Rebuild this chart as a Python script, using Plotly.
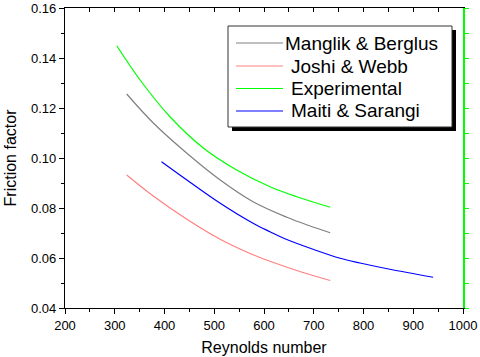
import plotly.graph_objects as go

# values
re_mb = [324, 378, 445, 512, 578, 646, 690, 733]
f_mb = [0.1256, 0.1139, 0.1019, 0.0912, 0.0825, 0.0763, 0.0730, 0.0701]

re_jw = [324, 378, 445, 510, 572, 612, 672, 733]
f_jw = [0.0932, 0.0847, 0.0755, 0.0677, 0.0618, 0.0587, 0.0546, 0.0510]

re_exp = [304, 351, 411, 478, 545, 612, 666, 733]
f_exp = [0.1449, 0.1312, 0.1165, 0.1040, 0.0952, 0.0885, 0.0845, 0.0803]

re_ms = [394, 445, 512, 578, 612, 642, 700, 753, 793, 853, 940]
f_ms = [0.0985, 0.0912, 0.0819, 0.0739, 0.0705, 0.0677, 0.0634, 0.0599, 0.0580, 0.0555, 0.0523]

names = ["Manglik & Berglus", "Joshi & Webb", "Experimental", "Maiti & Sarangi"]
colors = ["#808080", "#ff8080", "#00ff00", "#0000ff"]

FONT = "Liberation Sans, Arial, sans-serif"
W, H = 480, 357
L, R, T, B = 65, 17, 8, 49

fig = go.Figure()
for name, x, y, c in zip(names, [re_mb, re_jw, re_exp, re_ms],
                         [f_mb, f_jw, f_exp, f_ms], colors):
    fig.add_trace(go.Scatter(x=x, y=y, mode="lines", name=name, showlegend=False,
                             line=dict(color=c, width=1.2, shape="spline")))

# invisible traces to activate top / right axes
fig.add_trace(go.Scatter(x=[200], y=[0.04], xaxis="x2", yaxis="y", showlegend=False,
                         mode="markers", marker=dict(opacity=0), hoverinfo="skip"))
fig.add_trace(go.Scatter(x=[200], y=[0.04], xaxis="x", yaxis="y2", showlegend=False,
                         mode="markers", marker=dict(opacity=0), hoverinfo="skip"))

# pixel -> paper helpers
def px_x(p):
    return (p - L) / (W - L - R)

def px_y(p):
    return 1 - (p - T) / (H - T - B)

# Origin-style legend box with drop shadow
fig.add_shape(type="rect", xref="paper", yref="paper",
              x0=px_x(232), x1=px_x(456), y0=px_y(131), y1=px_y(30),
              fillcolor="black", line=dict(width=0), layer="above")
fig.add_shape(type="rect", xref="paper", yref="paper",
              x0=px_x(228), x1=px_x(452), y0=px_y(127), y1=px_y(26),
              fillcolor="white", line=dict(color="#333333", width=1), layer="above")
row_y = [43, 66, 88.5, 111]
text_x = [283, 289, 289, 289]
for name, c, ry, tx in zip(names, colors, row_y, text_x):
    fig.add_shape(type="line", xref="paper", yref="paper",
                  x0=px_x(236), x1=px_x(283), y0=px_y(ry), y1=px_y(ry),
                  line=dict(color=c, width=1), layer="above")
    fig.add_annotation(xref="paper", yref="paper", x=px_x(tx), y=px_y(ry),
                       xanchor="left", yanchor="middle", showarrow=False,
                       text=name, font=dict(size=19, family=FONT, color="black"))

fig.update_layout(
    width=W, height=H,
    margin=dict(l=L, r=R, t=T, b=B, autoexpand=False),
    paper_bgcolor="white", plot_bgcolor="white",
    font=dict(family=FONT, color="black"),
    showlegend=False,
    xaxis=dict(range=[200, 1000], dtick=100, showgrid=False, zeroline=False,
               automargin=False,
               showline=True, linecolor="black", linewidth=1.2,
               ticks="outside", ticklen=5, tickcolor="black",
               minor=dict(dtick=50, ticks="outside", ticklen=3, tickcolor="black"),
               tickfont=dict(size=13),
               title=dict(text="Reynolds number", font=dict(size=16), standoff=10)),
    xaxis2=dict(range=[200, 1000], overlaying="x", side="top", dtick=50,
                showgrid=False, zeroline=False, showticklabels=False,
                showline=True, linecolor="black", linewidth=1.2,
                ticks="inside", ticklen=4, tickcolor="black"),
    yaxis=dict(range=[0.04, 0.16], dtick=0.02, tickformat=".2f", showgrid=False,
               zeroline=False, automargin=False,
               showline=True, linecolor="black", linewidth=1.2,
               ticks="outside", ticklen=5, tickcolor="black",
               minor=dict(dtick=0.01, ticks="outside", ticklen=3, tickcolor="black"),
               tickfont=dict(size=13),
               title=dict(text="Friction factor", font=dict(size=16), standoff=10)),
    yaxis2=dict(range=[0.04, 0.16], overlaying="y", side="right", dtick=0.01,
                showgrid=False, zeroline=False, showticklabels=False,
                showline=True, linecolor="#00ff00", linewidth=1.5,
                ticks="outside", ticklen=4, tickcolor="#00ff00"),
)

# drop the browser's default 8px body margin so the figure fills the window
fig.write_html("out.html", config={"displayModeBar": False},
               post_script="document.body.style.margin='0';")
